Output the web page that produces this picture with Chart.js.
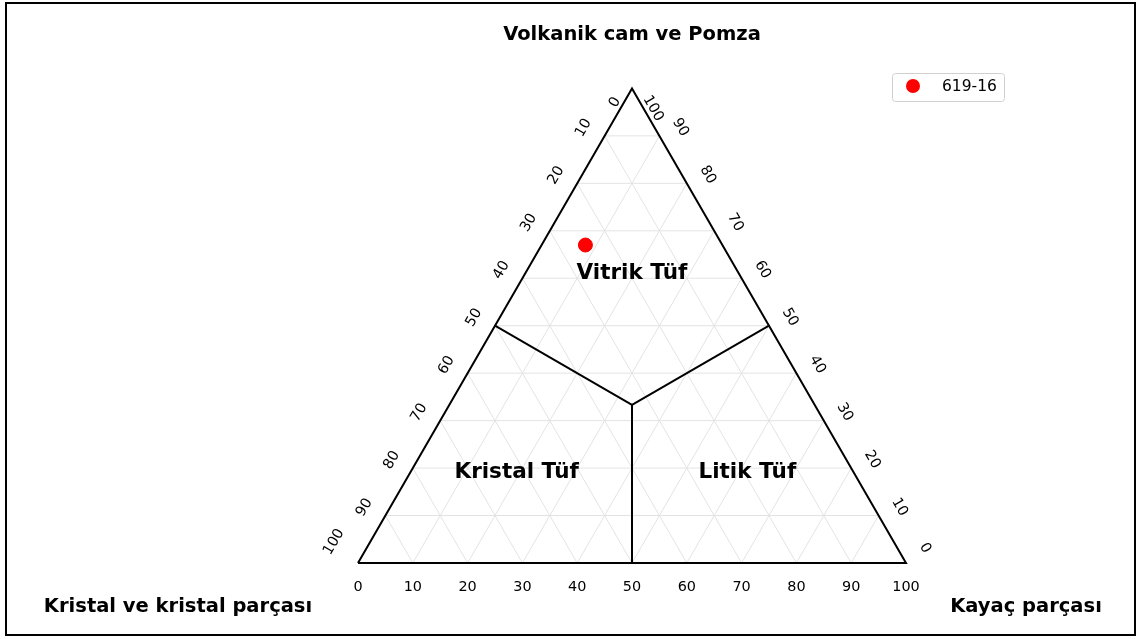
<!DOCTYPE html>
<html>
<head>
<meta charset="utf-8">
<script src="https://cdn.jsdelivr.net/npm/chart.js@4.4.0/dist/chart.umd.min.js"></script>
<style>
  html, body { margin: 0; padding: 0; background: #ffffff; }
  #wrap { width: 1137px; height: 639px; position: relative; }
</style>
</head>
<body>
<div id="wrap"><canvas id="ternary"></canvas></div>
<script>
// Sample composition (percent): crystal, rock fragment, volcanic glass
const sampleNames = ['619-16'];
const crystalPct = [25];
const rockPct = [8];
const glassPct = [67];

// Axis tick values and grid steps (percent)
const tickValues = [0, 10, 20, 30, 40, 50, 60, 70, 80, 90, 100];
const gridSteps = [10, 20, 30, 40, 50, 60, 70, 80, 90];

// Apex / axis names
const topTitle = 'Volkanik cam ve Pomza';
const leftTitle = 'Kristal ve kristal parçası';
const rightTitle = 'Kayaç parçası';

// Classification fields and their label anchors as [crystal, rock, glass]
const fieldNames = ['Vitrik Tüf', 'Kristal Tüf', 'Litik Tüf'];
const fieldCrystal = [19.3, 61.4, 19.3];
const fieldRock = [19.3, 19.3, 61.4];
const fieldGlass = [61.4, 19.3, 19.3];

// Field boundaries: edge midpoints joined to the centroid, as [crystal, rock, glass]
const boundaryCrystal = [[50, 33.33], [0, 33.33], [50, 33.33]];
const boundaryRock = [[0, 33.33], [50, 33.33], [50, 33.33]];
const boundaryGlass = [[50, 33.34], [50, 33.34], [0, 33.34]];

const H = Math.sqrt(3) / 2;
// ternary composition -> cartesian (percent units)
function toXY(c, r, g) {
  const s = c + r + g;
  const rr = r / s * 100, gg = g / s * 100;
  return { x: rr + gg / 2, y: gg * H };
}

const datasets = [];

// sample points
datasets.push({
  label: sampleNames[0],
  data: crystalPct.map((c, i) => toXY(c, rockPct[i], glassPct[i])),
  backgroundColor: '#ff0000',
  borderColor: '#ff0000',
  pointRadius: 7,
  pointHoverRadius: 7,
  showLine: false,
  order: 0
});

// outer triangle
datasets.push({
  label: 'frame',
  data: [toXY(100, 0, 0), toXY(0, 100, 0), toXY(0, 0, 100), toXY(100, 0, 0)],
  showLine: true,
  borderColor: '#000000',
  borderWidth: 2,
  pointRadius: 0,
  fill: false,
  order: 1
});

// field boundaries
for (let i = 0; i < boundaryCrystal.length; i++) {
  datasets.push({
    label: 'boundary',
    data: [0, 1].map(j => toXY(boundaryCrystal[i][j], boundaryRock[i][j], boundaryGlass[i][j])),
    showLine: true,
    borderColor: '#000000',
    borderWidth: 2,
    pointRadius: 0,
    fill: false,
    order: 1
  });
}

// 10 % grid, parallel to each edge
gridSteps.forEach(v => {
  const lines = [
    [toXY(100 - v, 0, v), toXY(0, 100 - v, v)],     // constant glass
    [toXY(v, 100 - v, 0), toXY(v, 0, 100 - v)],     // constant crystal
    [toXY(100 - v, v, 0), toXY(0, v, 100 - v)]      // constant rock
  ];
  lines.forEach(pts => {
    datasets.push({
      label: 'grid',
      data: pts,
      showLine: true,
      borderColor: '#e3e3e3',
      borderWidth: 1,
      pointRadius: 0,
      fill: false,
      order: 2
    });
  });
});

const FONT = '"DejaVu Sans", "Liberation Sans", sans-serif';

const ternaryDecor = {
  id: 'ternaryDecor',
  afterDatasetsDraw(chart) {
    const ctx = chart.ctx;
    const xs = chart.scales.x, ys = chart.scales.y;
    const px = p => ({ x: xs.getPixelForValue(p.x), y: ys.getPixelForValue(p.y) });

    ctx.save();
    ctx.fillStyle = '#000';
    ctx.textAlign = 'center';
    ctx.textBaseline = 'middle';

    // tick labels
    ctx.font = '14.4px ' + FONT;
    function rotText(t, x, y, a) {
      ctx.save();
      ctx.translate(x, y);
      ctx.rotate(a);
      ctx.fillText(t, 0, 0);
      ctx.restore();
    }
    tickValues.forEach(v => {
      // bottom: rock fragment
      const b = px(toXY(100 - v, v, 0));
      ctx.fillText(String(v), b.x, b.y + 24);

      // left: crystal
      const l = px(toXY(v, 0, 100 - v));
      let ldx = -21, ldy = -8;
      if (v === 0) { ldx = -17; ldy = 14; }
      if (v === 100) { ldx = -24; ldy = -21; }
      rotText(String(v), l.x + ldx, l.y + ldy, -Math.PI / 3);

      // right: glass
      const r = px(toXY(0, 100 - v, v));
      let rdx = 21, rdy = -8.5;
      if (v === 100) { rdx = 21; rdy = 20; }
      if (v === 0) { rdx = 19; rdy = -15; }
      rotText(String(v), r.x + rdx, r.y + rdy, Math.PI / 3);
    });

    // field names
    ctx.font = 'bold 21.5px ' + FONT;
    fieldNames.forEach((n, i) => {
      const p = px(toXY(fieldCrystal[i], fieldRock[i], fieldGlass[i]));
      ctx.fillText(n, p.x, p.y + 1.5);
    });

    // apex titles
    ctx.font = 'bold 19.5px ' + FONT;
    const top = px(toXY(0, 0, 100));
    ctx.fillText(topTitle, top.x, top.y - 53);
    const bl = px(toXY(100, 0, 0));
    ctx.fillText(leftTitle, bl.x - 180, bl.y + 44);
    const br = px(toXY(0, 100, 0));
    ctx.fillText(rightTitle, br.x + 120, br.y + 44);

    // legend
    const lx = 892, ly = 73, lw = 112, lh = 28;
    ctx.beginPath();
    ctx.roundRect(lx + 0.5, ly + 0.5, lw, lh, 3);
    ctx.fillStyle = 'rgba(255,255,255,0.8)';
    ctx.fill();
    ctx.strokeStyle = '#d0d0d0';
    ctx.lineWidth = 1;
    ctx.stroke();
    ctx.beginPath();
    ctx.arc(lx + 21, ly + 13, 7, 0, Math.PI * 2);
    ctx.fillStyle = '#ff0000';
    ctx.fill();
    ctx.fillStyle = '#000';
    ctx.font = '15.5px ' + FONT;
    ctx.textAlign = 'left';
    ctx.fillText(sampleNames[0], lx + 50, ly + 13.5);

    // figure border
    ctx.strokeStyle = '#000';
    ctx.lineWidth = 2;
    ctx.strokeRect(6, 3, 1129, 632);
    ctx.restore();
  }
};

new Chart(document.getElementById('ternary'), {
  type: 'scatter',
  data: { datasets },
  options: {
    responsive: true,
    maintainAspectRatio: false,
    animation: false,
    events: [],
    layout: { padding: 0, autoPadding: false },
    scales: {
      x: { type: 'linear', display: false, min: -358 / 5.48, max: (1137 - 358) / 5.48 },
      y: { type: 'linear', display: false, min: -(639 - 563) / 5.48, max: 563 / 5.48 }
    },
    plugins: {
      legend: { display: false },
      tooltip: { enabled: false },
      title: { display: false }
    }
  },
  plugins: [ternaryDecor]
});
</script>
</body>
</html>
